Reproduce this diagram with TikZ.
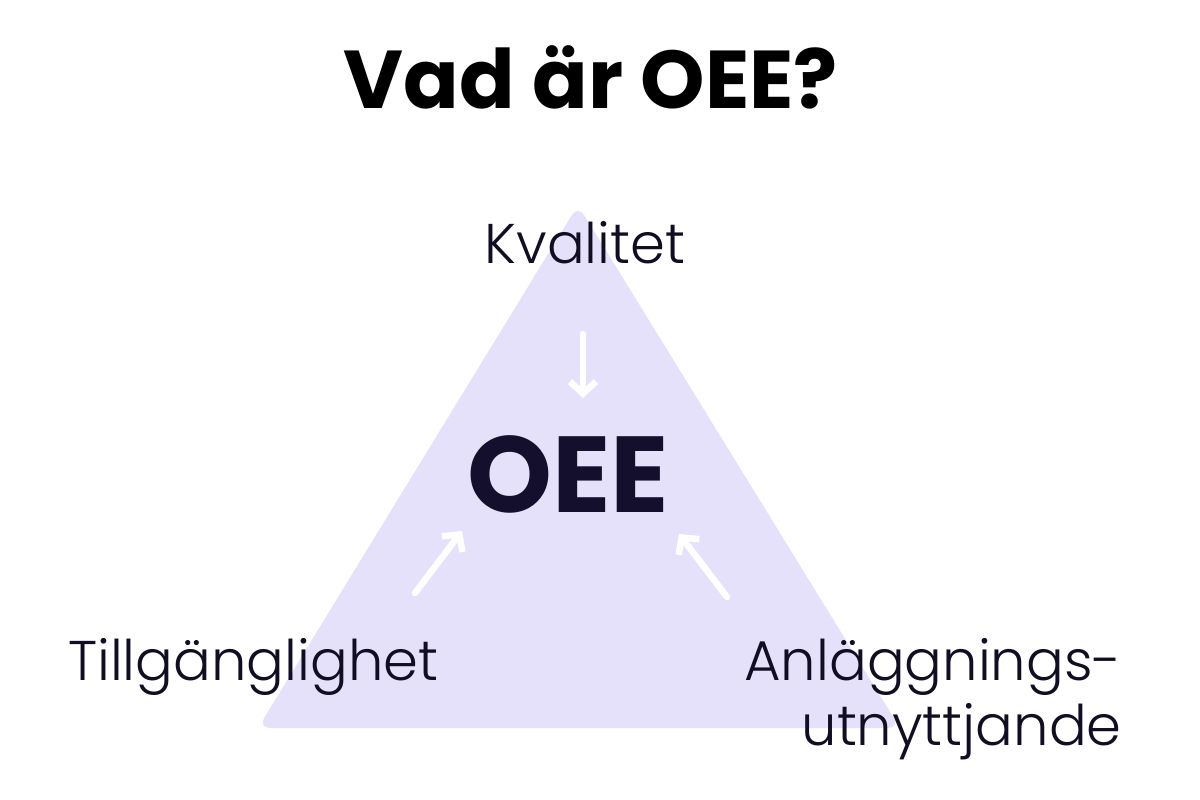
\documentclass[tikz,border=0pt]{standalone}
\usepackage{fontspec}
\setmainfont{Poppins}[UprightFont=* Light, BoldFont=* SemiBold]
\newfontfamily\titlefont{Poppins}[UprightFont=* Bold]
\usetikzlibrary{arrows.meta}
\definecolor{tri}{HTML}{E6E1FB}
\definecolor{ink}{HTML}{110D22}
\definecolor{oeeink}{HTML}{150F2E}
\tikzset{
  lbl/.style={font=\fontsize{56}{62}\selectfont, text=ink, inner sep=0pt},
  wharrow/.style={draw=white, line width=6.5pt, line cap=round,
    -{Straight Barb[length=12pt,width=26pt,line width=6.5pt]}}
}
\begin{document}
\begin{tikzpicture}[x=1pt,y=-1pt]
\useasboundingbox[fill=white] (0,0) rectangle (1200,800);
\fill[tri, rounded corners=12pt] (578,205) -- (900,728) -- (258,728) -- cycle;
\node[font=\titlefont\fontsize{82}{88}\selectfont, anchor=base, inner sep=0pt] (title) at (591,108) {Vad är OEE?};
\node[font=\titlefont\fontsize{108}{114}\selectfont, text=oeeink, anchor=base, inner sep=0pt] (oee) at (568,512) {OEE};
\node[lbl, anchor=base] (kval) at (585,263) {Kvalitet};
\node[lbl, anchor=base west] (till) at (68,680) {Tillgänglighet};
\node[lbl, anchor=base east] (anl) at (1122,680) {Anläggnings-};
\node[lbl, anchor=base east] (utn) at (1122,745) {utnyttjande};
\coordinate (a1s) at (583,334);
\coordinate (a1e) at (583,398);
\coordinate (a2s) at (415,593);
\coordinate (a2e) at (462,531);
\coordinate (a3s) at (727,597);
\coordinate (a3e) at (679,534);
\draw[wharrow] (a1s) -- (a1e);
\draw[wharrow] (a2s) -- (a2e);
\draw[wharrow] (a3s) -- (a3e);
\end{tikzpicture}
\end{document}
